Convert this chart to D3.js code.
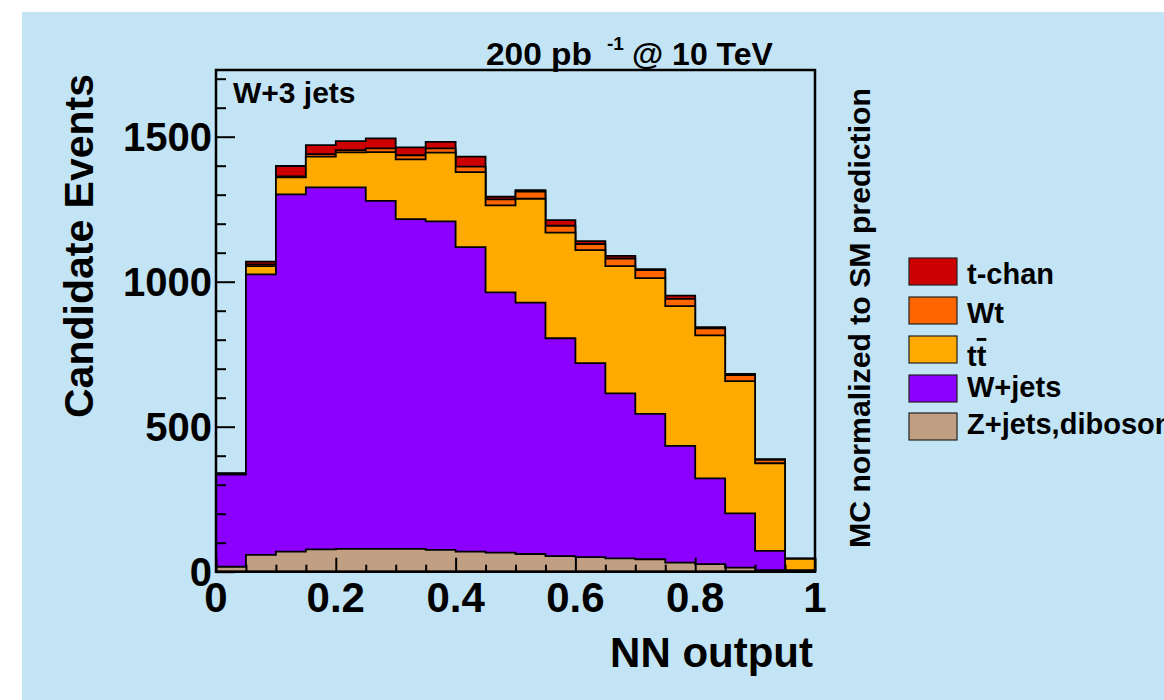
<!DOCTYPE html>
<html>
<head>
<meta charset="utf-8">
<script src="https://cdn.jsdelivr.net/npm/d3@7"></script>
<style>
  html, body { margin: 0; padding: 0; background: #ffffff; }
  svg { display: block; }
  text { font-family: "Liberation Sans", Arial, Helvetica, sans-serif; font-weight: bold; fill: #000; }
</style>
</head>
<body>
<svg id="chart" width="1164" height="700"></svg>
<script>
// ---- data ----
const binEdges = [0, 0.05, 0.1, 0.15, 0.2, 0.25, 0.3, 0.35, 0.4, 0.45, 0.5,
                  0.55, 0.6, 0.65, 0.7, 0.75, 0.8, 0.85, 0.9, 0.95, 1.0];
const zjets = [17, 58, 69, 77, 79, 79, 79, 75, 69, 66, 61, 54, 50, 46, 43, 31, 26, 14, 5, 2];
const wjets = [318, 967, 1232, 1248, 1246, 1200, 1137, 1133, 1050, 897, 867, 751, 669, 569, 501, 403, 296, 187, 67, 3];
const ttbar = [2, 29, 59, 106, 121, 168, 206, 237, 259, 300, 358, 364, 390, 439, 468, 482, 493, 456, 302, 39];
const wt    = [1, 6, 3, 9, 8, 13, 14, 15, 19, 21, 25, 24, 21, 26, 28, 25, 24, 21, 12, 1];
const tchan = [2, 9, 36, 31, 31, 34, 27, 22, 34, 9, 5, 19, 10, 9, 3, 11, 4, 4, 2, 1];

const seriesKeys   = ["z", "w", "tt", "wt", "tc"];
const seriesLabels = ["Z+jets,diboson", "W+jets", "tt", "Wt", "t-chan"];
const seriesColors = ["#c09f82", "#8c00ff", "#ffaa00", "#ff6600", "#cc0000"];

const xMajorTicks = [0, 0.2, 0.4, 0.6, 0.8, 1];
const xTickLabels = ["0", "0.2", "0.4", "0.6", "0.8", "1"];
const xMinorTicks = [0.05, 0.1, 0.15, 0.25, 0.3, 0.35, 0.45, 0.5, 0.55, 0.65, 0.7, 0.75, 0.85, 0.9, 0.95];
const yMajorTicks = [0, 500, 1000, 1500];
const yTickLabels = ["0", "500", "1000", "1500"];
const yMinorTicks = [100, 200, 300, 400, 600, 700, 800, 900, 1100, 1200, 1300, 1400, 1600, 1700];

// ---- layout ----
const svg = d3.select("#chart");
const X0 = 216, X1 = 815, Y0 = 571.7, Y1 = 70;
const x = d3.scaleLinear().domain([0, 1]).range([X0, X1]);
const y = d3.scaleLinear().domain([0, 1730]).range([Y0, Y1]);

svg.append("rect").attr("x", 22).attr("y", 12).attr("width", 1164 - 22).attr("height", 700 - 12)
  .attr("fill", "#c3e4f5");

// ---- stacked histogram ----
const rows = binEdges.slice(0, binEdges.length - 1).map((lo, i) => ({
  lo, z: zjets[i], w: wjets[i], tt: ttbar[i], wt: wt[i], tc: tchan[i]
}));
const stacked = d3.stack().keys(seriesKeys)(rows);

const area = d3.area()
  .curve(d3.curveStepAfter)
  .x(p => x(p[0]))
  .y0(y(0))
  .y1(p => y(p[1]));

const gBars = svg.append("g");
stacked.slice().reverse().forEach(s => {
  const idx = seriesKeys.indexOf(s.key);
  const pts = s.map((d, i) => [binEdges[i], d[1]]);
  pts.push([binEdges[binEdges.length - 1], s[s.length - 1][1]]);
  gBars.append("path")
    .attr("d", area(pts))
    .attr("fill", seriesColors[idx])
    .attr("stroke", "#000")
    .attr("stroke-width", 1.8)
    .attr("stroke-linejoin", "miter");
});

// ---- axes ----
const axStyle = g => { g.select(".domain").remove(); g.selectAll("line").attr("stroke", "#000").attr("stroke-width", 2); };

svg.append("g").attr("transform", `translate(${X0},0)`)
  .call(d3.axisRight(y).tickValues(yMajorTicks).tickSize(19).tickFormat(""))
  .call(axStyle);
svg.append("g").attr("transform", `translate(${X0},0)`)
  .call(d3.axisRight(y).tickValues(yMinorTicks).tickSize(10).tickFormat(""))
  .call(axStyle);
svg.append("g").attr("transform", `translate(0,${Y0})`)
  .call(d3.axisTop(x).tickValues(xMajorTicks).tickSize(14).tickFormat(""))
  .call(axStyle);
svg.append("g").attr("transform", `translate(0,${Y0})`)
  .call(d3.axisTop(x).tickValues(xMinorTicks).tickSize(7).tickFormat(""))
  .call(axStyle);

// tick labels
svg.append("g").selectAll("text").data(yMajorTicks).join("text")
  .attr("x", 212).attr("y", d => y(d)).attr("dy", "0.36em")
  .attr("text-anchor", "end").attr("font-size", 40)
  .text((d, i) => yTickLabels[i]);
svg.append("g").selectAll("text").data(xMajorTicks).join("text")
  .attr("x", d => x(d)).attr("y", 612)
  .attr("text-anchor", "middle").attr("font-size", 42)
  .text((d, i) => xTickLabels[i]);

// frame
svg.append("rect").attr("x", X0).attr("y", Y1).attr("width", X1 - X0).attr("height", Y0 - Y1)
  .attr("fill", "none").attr("stroke", "#000").attr("stroke-width", 2.5);

// ---- titles ----
svg.append("text").attr("x", 813).attr("y", 667).attr("text-anchor", "end")
  .attr("font-size", 42).text("NN output");
svg.append("text").attr("transform", "translate(93,246) rotate(-90)")
  .attr("text-anchor", "middle").attr("font-size", 41).text("Candidate Events");
svg.append("text").attr("transform", "translate(870,318) rotate(-90)")
  .attr("text-anchor", "middle").attr("font-size", 29)
  .attr("textLength", 460).attr("lengthAdjust", "spacingAndGlyphs")
  .text("MC normalized to SM prediction");
svg.append("text").attr("x", 233).attr("y", 103).attr("font-size", 30).text("W+3 jets");

svg.append("text").attr("x", 486).attr("y", 65).attr("font-size", 32)
  .attr("textLength", 106).attr("lengthAdjust", "spacingAndGlyphs").text("200 pb");
svg.append("text").attr("x", 607).attr("y", 50).attr("font-size", 19).text("-1");
svg.append("text").attr("x", 632).attr("y", 65).attr("font-size", 32).text("@ 10 TeV");

// ---- legend ----
const legendOrder = [4, 3, 2, 1, 0];
const boxTops = [258, 297, 336, 375, 413];
const textBase = [284, 323, 366, 397, 434];
const gLeg = svg.append("g");
legendOrder.forEach((si, k) => {
  gLeg.append("rect").attr("x", 909).attr("y", boxTops[k]).attr("width", 48).attr("height", 27)
    .attr("fill", seriesColors[si]).attr("stroke", "#222").attr("stroke-width", 1.2);
  const t = gLeg.append("text").attr("x", 967).attr("y", textBase[k]).attr("font-size", 29);
  if (seriesKeys[si] === "tt") {
    t.append("tspan").text("t");
    t.append("tspan").style("text-decoration", "overline").text("t");
  } else {
    t.text(seriesLabels[si]);
  }
});
</script>
</body>
</html>
